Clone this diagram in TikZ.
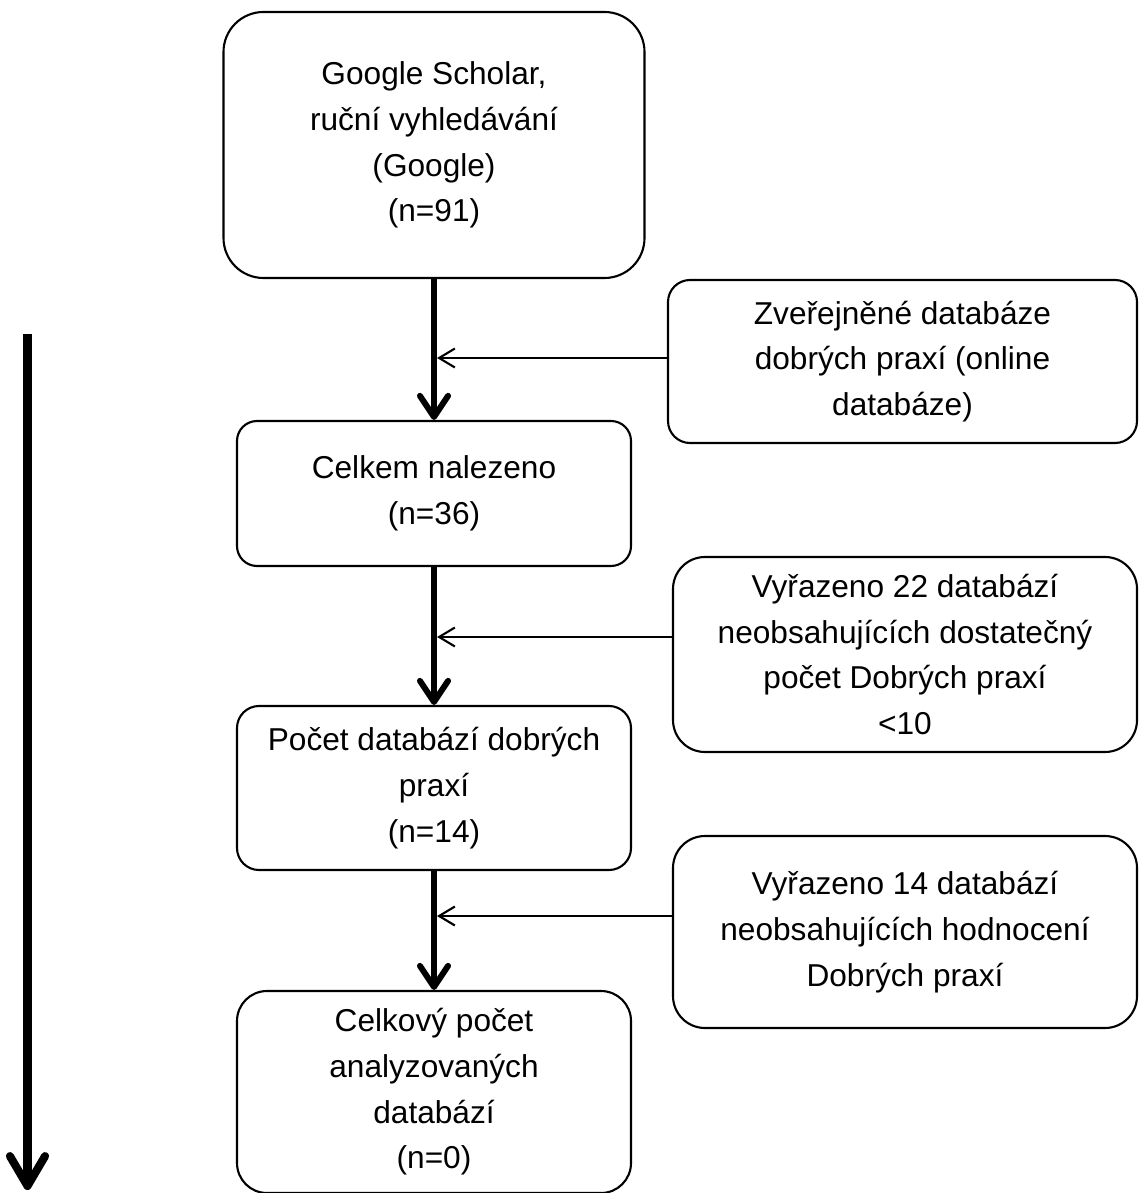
\documentclass[tikz,border=0pt]{standalone}
\usepackage{fontspec}
\setmainfont{Liberation Sans}
\usetikzlibrary{arrows.meta}
\newcommand{\krok}[7]{
\node[draw, rounded corners=#6cm, minimum width=#4cm, minimum height=#5cm,
  align=center, inner sep=0] (#1) at (#2,#3) {#7};}
\tikzset{
  tlusta/.style={line width=1.7pt, -{Straight Barb[length=6pt, width=8pt, round]}},
  tenka/.style={line width=0.6pt, -{Straight Barb[length=4.5pt, width=5.4pt]}},
  dlouha/.style={line width=2.3pt, -{Straight Barb[length=8.5pt, width=10pt, round]}}
}

\begin{document}
\begin{tikzpicture}[y=-1cm, line width=0.6pt, font=\fontsize{9}{13}\selectfont]
\useasboundingbox (0,0) rectangle (11.38,11.93);

\krok{gs}{4.34}{1.45}{4.21}{2.66}{0.4}{Google Scholar,\\ ruční vyhledávání\\ (Google)\\ (n=91)}
\krok{zd}{9.025}{3.615}{4.69}{1.63}{0.22}{Zveřejněné databáze\\ dobrých praxí (online\\ databáze)}
\krok{cn}{4.34}{4.935}{3.94}{1.45}{0.2}{Celkem nalezeno\\ (n=36)}
\krok{v22}{9.05}{6.545}{4.64}{1.95}{0.32}{Vyřazeno 22 databází\\ neobsahujících dostatečný\\ počet Dobrých praxí\\ <10}
\krok{pd}{4.34}{7.88}{3.94}{1.64}{0.22}{Počet databází dobrých\\ praxí\\ (n=14)}
\krok{v14}{9.05}{9.32}{4.64}{1.92}{0.32}{Vyřazeno 14 databází\\ neobsahujících hodnocení\\ Dobrých praxí}
\krok{ca}{4.34}{10.92}{3.94}{2.02}{0.3}{Celkový počet\\ analyzovaných\\ databází\\ (n=0)}

\draw[tlusta] (gs.south) -- (cn.north);
\draw[tlusta] (cn.south) -- (pd.north);
\draw[tlusta] (pd.south) -- (ca.north);

\coordinate (p1) at (4.37,3.58);
\coordinate (p2) at (4.37,6.37);
\coordinate (p3) at (4.37,9.16);
\draw[tenka] (zd.west |- p1) -- (p1);
\draw[tenka] (v22.west |- p2) -- (p2);
\draw[tenka] (v14.west |- p3) -- (p3);

\coordinate (t1) at (0.275,3.34);
\coordinate (t2) at (0.275,11.9);
\draw[dlouha] (t1) -- (t2);

\end{tikzpicture}
\end{document}
